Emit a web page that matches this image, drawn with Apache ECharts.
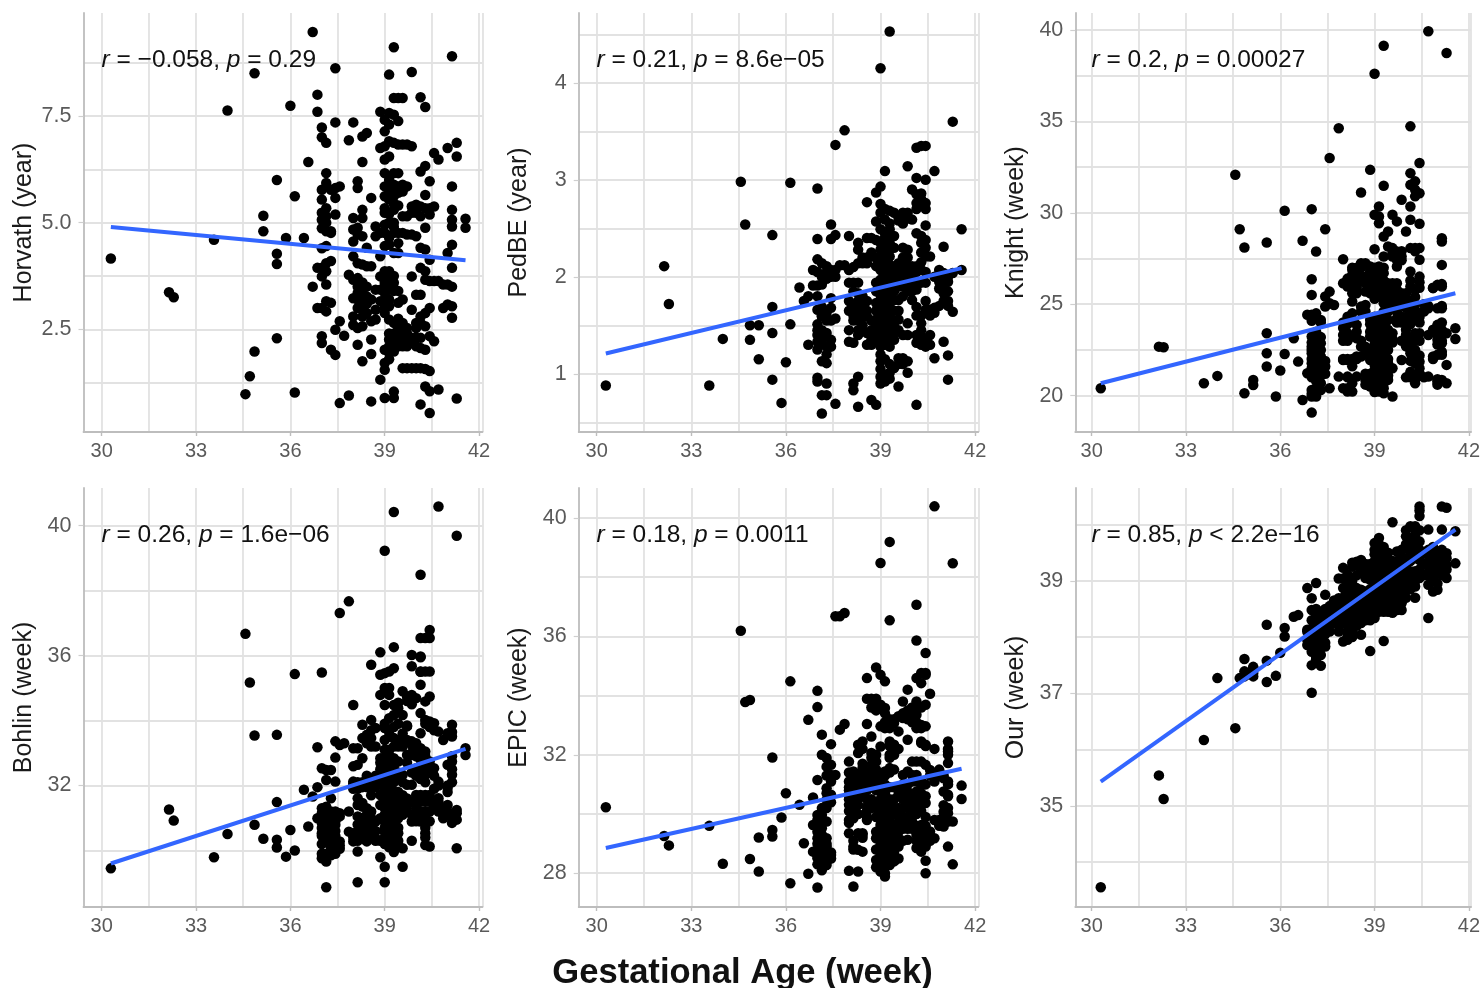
<!DOCTYPE html>
<html><head><meta charset="utf-8">
<style>html,body{margin:0;padding:0;background:#fff}#c{width:1483px;height:988px}</style>
<script src="https://cdn.jsdelivr.net/npm/echarts@6/dist/echarts.min.js"></script>
</head><body><div id="c"></div>
<script>
// Each row: [gestational age (week), then the y values read at that age]
const horvath = [
[30.29,4.16],[32.14,3.37],[32.29,3.25],[33.57,4.6],[34,7.63],[34.57,.98],[34.71,1.4],[34.86,8.5,1.98],[35.14,5.16,4.8],
[35.57,6,4.27,4.03,2.29],[35.86,4.64],[36,7.74],[36.14,5.62,1.02],[36.43,4.64],[36.57,6.42],[36.71,9.47,3.5],[36.86,8,7.6,3.94,3],
[37,7.23,7,5.77,5.54,5.23,5.07,4.87,4.4,3.94,3.74,3,2.34,2.18],
[37.14,6.87,6.16,5.93,5.34,5.15,5,4.8,4.45,4.05,3.86,3.55,3.16,2.92],
[37.29,5.77,4.8,4.76,4.1,3.12,2.02],[37.43,8.62,7.35,5.81,5.58,5.19,2.49,1.9],[37.57,5.85,2.69,.77],[37.71,2.35],[37.86,6.93,3.78,.95],
[38,7.35,5.11,4.84,4.56,4.21,3.66,3.23,2.8,2.6],[38.14,5.97,5.81,4.88,4.72,4.05,3.5,3.2,2.53,2.14],
[38.29,7.02,6.42,5.3,5.11,4.68,4.02,3.35,3,2.57,1.75],[38.43,7.1,4.41,3.98,3.27,2.88],[38.57,5.58,3.98,3.2,2.69,2.26,1.92,.81],
[38.71,4.91,4.68,3.43,2.96,2.73],[38.86,7.6,6.75,4.76,4.21,3.74,3.43,3.16,1.32],
[39,7.41,7.14,6.79,6.48,6.16,5.85,5.62,5.34,5.23,4.76,4.45,3.86,3.59,3.35,3.12,2.88,2.02,1.71,1.55,.89],
[39.14,8.47,7.57,7.3,6.91,6.55,6,5.77,5.54,4.48,3.86,3.63,3.43,3.04,2.73,2.26,1.95],
[39.29,9.11,7.92,7.53,6.87,6.16,5.89,5.62,5.3,5,4.76,4.29,3.59,2.65,2.18,1.98,1.04,.89],
[39.43,7.92,7.38,6.83,6.16,5.85,5.7,4.76,4.52,4.29,3.12,2.53,2.34,2.1],[39.57,7.92,6.83,5.89,5.73,5.15,4.76,3.2,2.65,2.3,1.59],
[39.71,6.83,5.85,5.15,4.72,2.53,2.26,1.59],[39.86,8.53,6.79,5.38,5.23,4.72,3.74,2.96,2.18,1.59],[40,5.42,5.23,4.68,3.31,2.53,2.1,1.59],
[40.14,7.94,6.2,5.38,5.15,4.41,3.94,3.31,2.65,2.06,1.59,.74],[40.29,7.71,6.33,5.65,5.34,4.88,4.37,3.86,3.66,2.88,2.57,2.02,1.57,1.16],
[40.43,5.97,5.34,5.19,4.13,3.63,3,2.34,1.52,1.05,.54],[40.57,6.63,5.38,3.63,2.22],[40.71,6.48,3.63,1.09],[40.86,3.55,3],
[41,6.75,4.29,3.55,3.08],[41.14,8.9,5.85,5.3,5.07,4.91,4.48,3.94,3.5,3.04,2.77],[41.29,6.87,6.55,.88],[41.57,5.09,4.88]];
const horvathDense = [[38.14,3.7,3.35,3],[38.29,3.6,3.15,2.8],[38.43,3.5,3.1],[39,4.95,3.7,3],[39.14,5.2,5,4.65,3.7,3.2,2.4,2.1,1.8],
[39.29,5.45,4.9,3.75,3.4,2.4,2.2],[39.43,5.4,3.4,2.75,2.25],[39.57,2.45,2.1],[39.71,2.4,2.1],[39.86,2.3],[40,2.3,2.65],[40.14,2.3,2.8]];
const pedbe = [
[30.29,.88],[32.14,2.11],[32.29,1.72],[33.57,.88],[34,1.36],[34.57,2.98],[34.71,2.54],[34.86,1.5,1.35],[35.14,1.5,1.15],
[35.57,2.43,1.69,1.42,.94],[35.86,.7],[36,1.12],[36.14,2.97,1.51],[36.43,1.89],[36.57,1.75],[36.71,1.3,1.8],[36.86,2.07,1.91],
[37,2.91,2.39,2.18,1.91,1.66,1.51,1.45,1.33,.96,.92],[37.14,2.14,1.92,1.69,1.59,1.45,1.32,1.13,.78,.59],[37.29,2.11,1.63,1.28,1.11,.9,.78],
[37.43,2.54,2.39,2.07,1.68,1.35],[37.57,3.36,2.43,2.07,1.57,.69],[37.71,2.12],[37.86,3.51,2.12],[38,2.42,2.07,1.94,1.75,1.45,1.33],
[38.14,1.94,1.71,1.32,.9,.83],[38.29,2.35,2.28,2.14,1.94,1.83,1.68,1.61,1.4,.97,.66],[38.43,2.14,1.8,1.69,1.59],[38.57,2.77,2.4,2.14,1.59,1.42],
[38.71,2.4,2.21,1.45,1.35,.73],[38.86,2.87,2.57,2.38,2.11,1.94,1.73,1.56,1.42,.68],
[39,4.15,2.93,2.66,2.49,2.35,2.21,2.07,1.97,1.87,1.76,1.66,1.56,1.42,1.28,1.13,.97,.9],
[39.14,3.09,2.59,2.45,2.31,2.18,2.04,1.9,1.8,1.69,1.59,1.45,1.35,.99,.92],[39.29,4.53,2.68,2.49,2.35,2.21,2.04,1.9,1.69,1.56,1.35,1.01],
[39.43,2.66,2.42,2.11,1.9,1.76,1.49,1.35,1.06],[39.57,2.62,2.14,1.97,1.76,1.56,1.16,.87],[39.71,2.66,2.3,2.11,1.9,1.16],
[39.86,3.14,2.66,2.28,2.11,1.94,1.52,1.13,1.01],[40,2.9,2.59,2.11,1.94,1.76],[40.14,3.33,3.02,2.76,2.45,2.11,1.87,1.69,1.32,.68],
[40.29,3.35,2.86,2.76,2.42,2.25,2.07,1.94,1.52,1.39],[40.43,3.35,3,2.76,2.53,2.38,2.21,1.94,1.66,1.28],[40.57,2.21,1.66,1.4],
[40.71,3.09,2,1.68,1.16],[40.86,1.88,2.07],[41,2.31,2.04,1.83,1.33],[41.14,2,1.75,1.19,.94],[41.29,3.6,2.04,1.64],[41.57,2.49,2.07]];
const pedbeDense = [[37,2.05,1.8,1.4,1.25],[37.14,2,1.6,1.38],[37.29,2.05,1.98,1.55,1.42,1.2],[37.43,2,1.78,1.55,1.28],[37.57,2],[38,1.65],
[38.14,2.1,1.85,1.6,1.55],[38.29,1.75,1.55,1.45],[38.43,2.2,1.75,1.6,1.5],[38.57,2.2,1.75,1.65,1.3],[38.71,2.25,1.55,1.3],[38.86,2.2,1.85,1.65,1.5,1.35],
[39,2.75,2.28,2.14,1.92,1.81,1.71,1.61,1.5,1.35,1.2,1.05],[39.14,2.7,2.4,2.25,2.1,1.95,1.85,1.75,1.65,1.52,1.4,1.3,1.15],
[39.29,2.55,2.42,2.28,2.12,1.97,1.83,1.75,1.62,1.45,1.28,1.1,.95],[39.43,2.3,2,1.85,1.65,1.55,1.42],[39.57,2.58,2.05,1.9,1.65,1.45,1.1],
[39.71,2.55,2.2,2,1.8,1.4,1.1],[39.86,2.6,2.2,2.05,1.85,1.4],[40,2.05,1.98,1.85],[40.14,2.85,2.7,2.05,1.95,1.6,1.4],[40.29,2.8,2.35,2.15,1.6,1.45,1.3],
[40.43,2.7,2.3,2.05,1.75,1.35],[40.57,1.6,1.3],[40.71,1.63],[40.86,1.95,1.7],[41,2,1.9,1.75],[41.14,1.95,1.85,1.7]];
const knight = [
[30.29,20.4],[32.14,22.68],[32.29,22.65],[33.57,20.68],[34,21.08],[34.57,32.08],[34.71,29.1],[34.86,28.1,20.13],[35.14,20.86,20.58],
[35.57,28.38,23.41,22.32,21.59],[35.86,19.95],[36,21.37],[36.14,30.11,22.28],[36.43,23.14],[36.57,21.86],[36.71,28.47,19.76],[36.86,24.42,21.22],
[37,30.2,26.37,25.51,24.42,23.23,22.68,22.32,21.77,21.22,20.31,19.95,19.07],[37.14,27.88,24.32,23.23,22.68,22.23,21.77,21.04,20.4,19.95],
[37.29,24.14,22.86,22.14,21.41,20.68],[37.43,29.1,25.42,24.87,21.59],[37.57,33,25.69,25.05,20.4],[37.71,24.96],[37.86,34.63,21.04],
[38,27.46,26.15,23.32,21.95,20.4],[38.14,25.97,24.32,23.41,21.95,21.04,20.22],[38.29,26.88,26.33,25.15,24.14,23.23,21.95,20.68,20.22],
[38.43,26.88,26.33,25.6,23.87,23.14,22.14,21.04],[38.57,31.11,27.24,26.51,24.87,22.68,22.14],[38.71,27.24,26.15,24.96,22.68,20.86],
[38.86,32.35,27.06,25.78,24.14,23.23,21.95,20.68],
[39,37.61,29.89,28.01,26.88,26.15,25.6,24.32,23.59,23.05,22.5,21.95,21.41,20.86,20.4],
[39.14,30.35,29.8,29.43,27.06,26.15,25.42,24.32,23.59,22.96,22.41,21.86,21.41,20.86,20.22],
[39.29,39.14,31.48,28.7,27.61,26.7,25.97,25.05,24.14,23.41,22.68,21.95,21.22,20.68,20.13],
[39.43,28.98,28.16,26.15,25.24,24.14,23.05,21.77,20.86],[39.57,29.89,28.07,27.61,26.15,25.15,23.41,19.95],[39.71,29.53,27.88,27.06,26.15,25.24,24.23],
[39.86,30.71,27.61,25.6,24.32,21.95],[40,28.98,25.6,25.05,23.32],[40.14,34.73,32.17,31.53,30.35,29.62,28.07,26.79,25.97,24.42,22.86,22.32],
[40.29,31.72,31.26,28.07,25.78,24.69,23.41,22.5,21.77,20.68],[40.43,32.72,31.07,29.4,28.07,27.43,26.51,24.51,23.41,21.86,21.22],
[40.71,39.93,24.78,23.32,21.04],[40.86,25.88,22.14],[41,26.06,24.78,23.87,23.05,22.23,20.77],
[41.14,28.61,28.43,27.15,25.97,24.78,23.59,22.86,22.23,20.86],[41.29,38.74,23.41,21.68,20.68],[41.57,23.69,23.1]];
const knightDense = [[37,24.1,22.9,22.5,22,21.5,21,20.1],[37.14,24.5,23.5,22.9,22.4,22,21.5,20.8],[37.29,24,23.2,22.5,21.8,21.1,20.3],[37.43,21.2,21.9],
[38,24,23.7,23,22],[38.14,26.4,23.9,23,22,21,20.4],[38.29,27,26.6,25.6,24.5,22,21.6],[38.43,27,26,25.9,23.5,22],[38.57,27.2,27,26.3,24.6,23],
[38.71,26.5,25.7,24.6,22.3,21.2,20.6],[38.86,26.8,26.3,25.6,23.9,23.5,22.5,22.2,21.2,20.5],[39,27,26.5,25.9,25.3,24,23.8,23.3,22.8,22.2,21.7,21.2,20.6,20.2],
[39.14,26.9,26.4,25.8,25.6,24,23.8,23.3,22.7,22.1,21.6,21.2,20.6,20.4],[39.29,27,26.3,25.6,24.6,23.8,23.2,22.9,22.4,21.7,21.4,21,20.4],
[39.43,26,25.8,25,24.6,23.6,22.5,22,21.4,21.1],[39.57,27.8,26,25.6,24.8,23.1,22.9,21.5],[39.71,27.4,25.8,25.1,24.6,24],[39.86,27.9,27.4,25,24,23],
[40,25.3,24.8,24.3,23.6,23,22.7,21],[40.14,26.3,25,24.2,23.9,23,22.5,21.9,21.3,21],[40.29,30.9,27.9,25.4,25,24.3,23,22.2,21.9,21.1,20.9],
[40.43,26.2,25.9,24.3,24,23,22.2,21.5,21.1],[40.57,25,24.6,21],[40.71,24.9],[40.86,25.9,23.6,22],[41,23.6,23.3,22.8,20.9,20.6],[41.14,26.1,24.9,24,23.3,23,22.4]];
const bohlin = [
[30.29,29.45],[32.14,31.26],[32.29,30.92],[33.57,29.79],[34,30.51],[34.57,36.67],[34.71,35.17],[34.86,33.54,30.79],[35.14,30.36],
[35.57,33.56,31.49,30.33,30.09],[35.86,29.81],[36,30.63],[36.14,35.43,30],[36.43,31.87],[36.57,30.74],[36.71,31.66],[36.86,33.18,31.95,30.99],
[37,35.48,32.53,31.3,30.99,30.69,30.53,29.76],[37.14,32.48,32.17,31.2,30.89,30.69,30.43,29.66,28.87],[37.29,32.48,31.61,31.15,30.84,30.17,29.97],
[37.43,33.36,32.86,32.12,31.1,30.79,30.28,30.07],[37.57,37.31,33.25,31.15,30.28],[37.71,33.3],[37.86,37.67,31.2,30.58],
[38,34.48,33.15,32.59,32.12,30.53,30.28],[38.14,33.15,32.64,32.02,31.61,31.05,30.58,29.97,29.02],[38.29,33.87,33.46,32.84,32.02,31.46,30.89,30.38],
[38.43,33.56,32.12,31.3,30.79,30.28],[38.57,35.72,34.02,33.46,31.92,31.2,30.69],[38.71,33.77,32.02,30.89,30.38],
[38.86,36.1,35.41,34.79,32.84,32.33,31.71,30.99,29.79],
[39,39.23,35.46,35,34.48,33.77,32.84,32.53,32.12,31.71,31.3,30.89,30.58,29.5,29.02],
[39.14,35.51,35,34.79,34.07,33.66,32.94,32.53,32.02,31.61,31.2,30.69,30.38],
[39.29,40.42,36.26,35.61,34.48,34.17,33.46,32.84,32.33,31.82,31.3,30.89,30.28],[39.43,34.38,32.74,32.2,31.51,30.99,30.53],
[39.57,34.9,34.17,32.33,30.07,29.5],[39.71,34.74,33.82,32.94,32.02,31.2],[39.86,36.02,35.67,34.79,33.36,32.94,32.02,30.89,30.3],
[40,34.69,33.05,32.53,31.71,31.1],[40.14,38.49,36.54,35.97,35.51,35.1,34.23,33.61,33.15,32.43,31.71,30.89],
[40.29,36.54,35.51,34.59,34.02,33.05,32.33,31.71,31.2,30.53,30.17],[40.43,36.79,36.54,35.51,34.74,33.97,32.74,31.71,30.12],[40.57,33.92,32.53,31.51],
[40.71,40.59,33.66,32.12,31.61],[40.86,31.3,30.99],[41,33.61,32.64,31.92,31.1],[41.14,33.87,33.51,32.74,32.33,30.99],[41.29,39.69,31.15,30.07],[41.57,33.15,32.94]];
const bohlinDense = [[37,31.15,30.85,30.45,30.2,29.9],[37.14,31.35,31.05,30.85,30.55,30.3,29.9],[37.29,31.2,31,30.7,30.5,30.3,30.1,29.85],[37.43,31.2,30.9,30.6,30.45,29.9],
[37.57,31.05,30.15,30.05],[38,32.05,31.95,31.9,30.4],[38.14,32.1,31.9,31.4,30.8,30.3],[38.29,32.1,31.95,31.35,31,30.7,30.6,30.5],[38.43,33.3,32.3,31.95,31.1,30.6,30.4],
[38.57,33.7,33.2,32,31.7,31,30.5],[38.71,33.2,32.3,31.95,30.6,30.3],[38.86,32.7,32.5,32.1,31.4,30.3],[39,33.9,33.4,33.1,32.7,32.3,31.9,31.5,31.1,30.7,30.4,30.2],
[39.14,33.5,33.1,32.7,32.3,31.8,31.4,31,30.5,30.25,30.1],[39.29,33.8,33.2,32.6,32.1,31.6,31.1,30.6,30.45,30.1,29.95],[39.43,34.55,33.9,33.4,33.2,32.4,31.8,31.3,30.7,30.3,30.1],
[39.57,33.6,33.2,32.1,31.7,31.4,31.1],[39.71,34.6,33.85,33.4,32.7,31.6,31.4],[39.86,34.65,34.5,33.25,33,32.4,31.5,31.1],[40,33.3,32.9,32.3,31.5,31.3,30.9],
[40.14,35.95,35.5,33,32.8,32.2,31.5,31.2,31],[40.29,33.9,32.9,32.6,32.1,31.5,31,30.7,30.4],[40.43,33.8,32.4,31.5,31.2,30.9],[40.57,33.7,32.3,31.9,31.3],[40.71,32,31.5,31.2],
[40.86,33.4,31.1],[41,32,31.8,31.4,31.2],[41.14,33.65,32.9,32.5,32.1,31.1,30.85],[41.29,31.25,30.95]];
const epic = [
[30.29,30.23],[32.14,29.26],[32.29,28.94],[33.57,29.6],[34,28.32],[34.57,36.19],[34.71,33.78],[34.86,33.85,28.48],[35.14,29.21,28.06],
[35.57,31.91,29.46,29.24],[35.86,29.88],[36,30.7],[36.14,34.48,27.66],[36.43,30.31],[36.57,29.01],[36.71,33.18,27.98],[36.86,30.56,29.63,28.73],
[37,34.16,33.61,31.15,29.97,29.63,29.18,28.79,28.51,27.52],[37.14,32.68,32,30.2,29.97,29.52,29.07,28.73,28.23],[37.29,31.89,30.87,30.48,29.75,29.18,28.73,28.28],
[37.43,32.36,31.66,31.32,30.65,28.62],[37.57,36.68,31.32],[37.71,36.68,32.85],[37.86,36.79,33.04],[38,31.77,31.1,30.65,30.31,29.8,29.35,28.08],
[38.14,31.44,31,29.86,28.9,27.55],[38.29,32.34,32.06,31.32,30.65,29.35,28.79,28.06],[38.43,32.45,31.55,29.35,28.73],[38.57,34.59,33.89,33.04,30.99,30.25,29.8],
[38.71,33.89,32.62,32.06,31.66,30.2],[38.86,34.95,33.89,32,31.77,31.21,30.2,29.18,28.45],
[39,38.48,34.7,33.69,32.96,32.28,31.32,30.76,30.31,29.97,29.63,29.3,28.96,28.62,28.06],
[39.14,34.48,33.58,32.9,31.44,30.87,30.54,30.2,29.86,29.52,29.18,28.85,28.51,27.89],
[39.29,39.19,36.54,33.07,32.45,32,31.55,30.31,29.86,29.46,29.01,28.62,28.28],[39.43,33.07,32.34,30.2,29.63,29.18,28.73,28.45],[39.57,32.79,30.65,30.2,29.63,29.18],
[39.71,33.8,33.24,31.32,30.76,30.2,29.63],[39.86,34.2,33.35,32.51,31.44,30.76,30.2,29.63,29.13],[40,33.46,31.77,31.32,30.65,29.75],
[40.14,37.07,35.86,34.59,33.8,33.35,31.77,31.32,30.76,30.2,29.3,28.85],[40.29,34.76,34.42,33.01,32.45,31.77,31.1,30.54,29.63,29.3,28.73],
[40.43,35.44,34.76,33.69,32.96,32.34,31.66,30.37,29.46,28.42,28],[40.57,34.06,31.49,29.41],[40.71,40.39,32.2,29.8,29.18],[41,31.21,30.76,30.08,29.58],
[41.14,32.45,32.11,31.72,31.1,30.65,30.03,29.75,28.9],[41.29,38.47,29.75,28.3],[41.57,30.96,30.51]];
const epicDense = [[37,29.8,29.4,29,28.6,28.3],[37.14,29.8,29.3,28.9,28.6,28.4,28.1],[37.29,31.6,31.3,30.7,30.2,29,28.9,28.6,28.4],[37.43,31.1,30.4,28.7,28.5],
[38,31.4,30.9,30.8,30.5,30.1,29.7],[38.14,31.2,30.9,30.7,30.4,30.1,29.9,29.1,28.8],[38.29,31.2,31,30.9,30.5,30.3,30],[38.43,32.2,31.7,31.2,30.8,30.6,29.3,29.2],
[38.57,31.4,31.1,30.8,30.5,30.1,29.9],[38.71,33.6,31.9,31.4,31.2,30.9,30.5],[38.86,33.7,33.5,31.5,31,30.8,30.4,29.9,29.4,28.8,28.2],
[39,31.1,30.9,30.5,30.1,29.8,29.5,29.1,28.8,28.5,28.3],[39.14,33.4,33.1,31.3,31,30.7,30.4,30,29.7,29.3,29,28.7,28.4,28.2,28],
[39.29,33.2,32.9,32.3,31.9,31.4,30.9,30.5,30.1,29.7,29.3,28.9,28.5],[39.43,33.2,32.2,32,31.5,30.9,30.5,30,29.4,28.9,28.6,28.4],[39.57,33.3,32.2,30.8,29.9,29.4,28.9,28.5],
[39.71,33.4,31,30.5,29.9,29.5,29.1],[39.86,33.5,33.2,31,30.6,30.3,29.9,29.5],[40,33.6,33.1,31.1,30.5,30.3,30,29.6,29.5],[40.14,33.1,32.9,31.1,30.5,30.4,30,29.6,29.1],
[40.29,33.6,32.9,32.4,31,30.7,30.3,30.1,29.5,29.1],[40.43,34.7,32.3,31,30.6,29.9,29.6,29.2,28.9],[40.57,31.3,29.3,29.1],[40.71,31.3,31.1],[40.86,31.5,31.3,29.8,29.6],
[41,31.3,30.3,29.9],[41.14,32.2,32,31,30.6,30.2]];
const our = [
[30.29,33.55],[32.14,35.54],[32.29,35.12],[33.57,36.17],[34,37.27],[34.57,36.38],[34.71,37.27],[34.86,37.61,37.39],[35.14,37.47,37.36],
[35.57,38.22,37.58,37.2],[35.86,37.31],[36,37.72],[36.14,38.16,38.01],[36.43,38.36],[36.57,38.39],[36.86,38.87,38.13,37.86],
[37,38.69,38.48,38.04,37.86,37.74,37.5,37.01],[37.14,38.96,38.39,38.22,37.98,37.8,37.65],[37.29,38.45,38.28,38.1,37.86,37.68,37.49],
[37.43,38.75,38.39,38.22,38.1,37.83],[37.57,38.51,38.34,38.1],[37.86,39.04,38.69],[38,39.23,39.04,38.87,38.51,37.92],[38.14,39.11,38.81,38.39,38.28,38.01],
[38.29,39.32,39.05,38.69,38.34,38.1],[38.43,39.34,38.87,38.57,38.34],[38.57,39.37,38.84,38.45,38.31,38.04],[38.71,39.14,38.81,38.57],[38.86,39.02,38.69,38.45,37.75],
[39,39.67,39.47,39.23,39.05,38.87,38.69,38.45,38.34],[39.14,39.76,39.55,39.34,39.17,38.99,38.81,38.6],[39.29,39.47,39.28,39.11,38.87,38.69,37.93],
[39.43,39.34,39.17,39.05,38.84,38.45],[39.57,40.04,39.17,38.93,38.75,38.45],[39.71,39.52,39.23,38.99,38.69],[39.86,39.4,39.17,38.87,38.69,38.48],
[40,39.79,39.58,39.23,38.93],[40.14,39.97,39.76,39.47,39.17,38.93],[40.29,39.97,39.79,39.52,39.17,38.99,38.7],[40.43,40.32,40.15,39.7,39.37,39.05],
[40.71,39.91,39.55,38.93,38.34],[40.86,39.46,39.17,38.81],[41,39.52,39.28,38.84],[41.14,40.32,39.91,39.46,39.23],[41.29,40.3,39.49,39.28,39.05],[41.57,39.88,39.31]];
const ourDense = [[34.86,37.3],[35.14,37.45,37.3],[36.86,38.1,37.95],[37,38.3,38.15,37.95,37.8],[37.14,38.5,38.3,38.15,38.05,37.9,37.6],[37.29,38.4,38.35,38.2,38,37.8],
[37.43,38.5,38.4,38.3,38.05,37.9],[37.57,38.55,38.4,38.2],[37.71,38.65,38.5,38.4,38.3],[37.86,38.6,38.5,38.4,38.3,38.2,38.1],[38,38.7,38.6,38.35,38.3],
[38.14,39,38.9,38.7,38.6,38.5,38.2,38.1,37.95],[38.29,39.25,39,38.8,38.6,38.45,38.25,38],[38.43,39.3,39.1,38.7,38.45,38.2],[38.57,39.2,38.75,38.6,38.4,38.25],
[38.71,39.3,39.05,38.7,38.5,38.4,38.3],[38.86,39.3,39.15,38.85,38.75,38.55,38.4,38.3],[39,39.55,39.35,39.15,39,38.95,38.8,38.6,38.55,38.4],
[39.14,39.65,39.45,39.25,39.1,38.9,38.7,38.5,38.45],[39.29,39.6,39.35,39.2,39,38.95,38.8,38.6,38.55,38.45],[39.43,39.5,39.25,39.1,38.95,38.7,38.6,38.55],
[39.57,39.35,39.25,39.05,38.85,38.6,38.55,38.43],[39.71,39.35,39.1,38.85,38.6,38.48],[39.86,39.55,39.3,39,38.8,38.6],[40,39.9,39.65,39.4,39.1,38.85,38.7],
[40.14,39.65,39.55,39.35,39.05,38.85],[40.29,39.9,39.65,39.4,39.05,38.9],[40.43,40.25,39.9,39.55,39.2,39.1],[40.57,39.5,39.3,39.1],[40.71,39.45,39.3,39.15,39.1],
[40.86,39.6,39.3,39.05],[41,39.45,39.15,38.95],[41.14,39.55,39.35,39.1],[41.29,39.4,39.2]];

const fitEndAges = [30.29, 41.57];
const horvathFit = [4.9, 4.12], pedbeFit = [1.21, 2.09], knightFit = [20.68, 25.6];
const bohlinFit = [29.6, 33.13], epicFit = [28.85, 31.53], ourFit = [35.43, 39.91];

const xTicks = [30, 33, 36, 39, 42];
const xMinor = [31.5, 34.5, 37.5, 40.5];
const names = ['Horvath (year)', 'PedBE (year)', 'Knight (week)', 'Bohlin (week)', 'EPIC (week)', 'Our (week)'];
const rValues = ['\u22120.058', '0.21', '0.2', '0.26', '0.18', '0.85'];
const pValues = ['= 0.29', '= 8.6e\u221205', '= 0.00027', '= 1.6e\u221206', '= 0.0011', '< 2.2e\u221216'];
const yTicks = [[2.5,5,7.5],[1,2,3,4],[20,25,30,35,40],[32,36,40],[28,32,36,40],[35,37,39]];
const yMinor = [[1.25,3.75,6.25,8.75],[.5,1.5,2.5,3.5,4.5],[22.5,27.5,32.5,37.5],[30,34,38],[30,34,38],[34,36,38,40]];
const yRanges = [[.093,9.914],[.4,4.72],[18.01,40.93],[28.26,41.16],[26.86,41.01],[33.2,40.65]];
const yDigits = [1,0,0,0,0,0];
const xRanges = [[29.42,42.11],[29.43,42.1],[29.48,42.07]];
const panelsData = [horvath.concat(horvathDense), pedbe.concat(pedbeDense), knight.concat(knightDense),
                    bohlin.concat(bohlinDense), epic.concat(epicDense), our.concat(ourDense)];
const fits = [horvathFit, pedbeFit, knightFit, bohlinFit, epicFit, ourFit];

const lefts = [83.5, 578.7, 1075.3], rights = [482.5, 978.3, 1473.3], tops = [13, 488], bottoms = [432, 907];
const FONT = '"Liberation Sans", Arial, sans-serif', LABEL = '#5a5a5a', GRID = '#e2e2e2', AXIS = '#bdbdbd';

const grid = [], xAxis = [], yAxis = [], series = [], title = [];
panelsData.forEach((rows, i) => {
  const c = i % 3, r = Math.floor(i / 3);
  grid.push({left: lefts[c], top: tops[r], width: rights[c] - lefts[c], height: bottoms[r] - tops[r], show: true, borderWidth: 0});
  const [xa, xb] = xRanges[c], [ya, yb] = yRanges[i];
  const base = {gridIndex: i, type: 'value', scale: true};
  xAxis.push(
    {...base, min: xa, max: xb, position: 'bottom', splitLine: {show: true, lineStyle: {color: GRID, width: 1.8}},
     axisLine: {show: true, onZero: false, lineStyle: {color: AXIS, width: 1.8}},
     axisTick: {show: true, length: 4, customValues: xTicks, lineStyle: {color: AXIS, width: 1.4}},
     axisLabel: {show: true, customValues: xTicks, margin: 9, color: LABEL, fontFamily: FONT, fontSize: 20, hideOverlap: false}},
    {...base, min: xa, max: xb, position: 'bottom', splitLine: {show: true, lineStyle: {color: GRID, width: 1.8}},
     axisLine: {show: false}, axisLabel: {show: false}, axisTick: {show: false, customValues: xMinor.concat([xb])}});
  yAxis.push(
    {...base, min: ya, max: yb, position: 'left', name: names[i], nameLocation: 'middle', nameGap: 47, nameRotate: 90,
     nameTextStyle: {color: '#1a1a1a', fontFamily: FONT, fontSize: 25},
     splitLine: {show: true, lineStyle: {color: GRID, width: 1.8}},
     axisLine: {show: true, onZero: false, lineStyle: {color: AXIS, width: 1.8}},
     axisTick: {show: true, length: 5, customValues: yTicks[i], lineStyle: {color: '#cfcfcf', width: 1.2}},
     axisLabel: {show: true, customValues: yTicks[i], margin: 12, color: LABEL, fontFamily: FONT, fontSize: 21.5,
       formatter: v => v.toFixed(yDigits[i])}},
    {...base, min: ya, max: yb, position: 'left', splitLine: {show: true, lineStyle: {color: GRID, width: 1.8}},
     axisLine: {show: false}, axisLabel: {show: false}, axisTick: {show: false, customValues: yMinor[i]}});
  const pts = [];
  rows.forEach(row => row.slice(1).forEach(y => pts.push([row[0], y])));
  series.push({type: 'scatter', xAxisIndex: 2 * i, yAxisIndex: 2 * i, data: pts, symbol: 'circle', symbolSize: 10.5,
    itemStyle: {color: '#000', opacity: 1}, silent: true, z: 3});
  series.push({type: 'line', xAxisIndex: 2 * i, yAxisIndex: 2 * i, data: fitEndAges.map((a, k) => [a, fits[i][k]]),
    showSymbol: false, symbol: 'none', lineStyle: {color: '#3366FF', width: 4, cap: 'butt'}, silent: true, z: 4});
  title.push({left: [101.5, 596.5, 1091.5][c], top: tops[r] + 35,
    text: `{i|r}{n| = ${rValues[i]}, }{i|p}{n| ${pValues[i]}}`,
    textStyle: {fontWeight: 'normal', rich: {
      i: {fontFamily: FONT, fontStyle: 'italic', fontWeight: 'normal', fontSize: 24.5, color: '#111'},
      n: {fontFamily: FONT, fontWeight: 'normal', fontSize: 24.5, color: '#111'}}}, padding: 0, z: 6});
});
title.push({left: 742.5, top: 956, textAlign: 'center', text: 'Gestational Age (week)',
  textStyle: {fontFamily: FONT, fontWeight: 'bold', fontSize: 34.6, color: '#111'}, padding: 0});

const chart = echarts.init(document.getElementById('c'), null, {renderer: 'canvas', width: 1483, height: 988});
chart.setOption({animation: false, backgroundColor: '#fff', grid, xAxis, yAxis, series, title});
</script></body></html>
